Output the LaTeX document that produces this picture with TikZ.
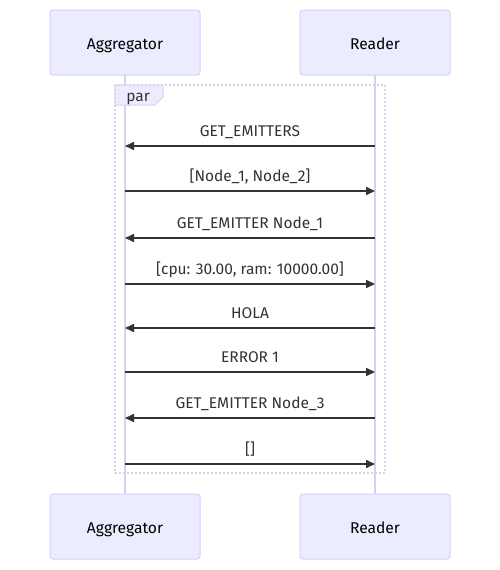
\documentclass[tikz,border=0pt]{standalone}
\usepackage{fontspec}
\setmainfont{Fira Sans}
\usetikzlibrary{arrows.meta}
\definecolor{actorfill}{HTML}{ECECFF}
\definecolor{actorline}{HTML}{DACEF3}
\definecolor{msgcolor}{HTML}{333333}
\begin{document}
\begin{tikzpicture}[x=1pt, y=-1pt,
    actorbox/.style={draw=actorline, fill=actorfill, line width=1pt, rounded corners=3pt,
      minimum width=150pt, minimum height=65pt, text height=13pt, text depth=0pt,
      font=\fontsize{15.6}{18}\selectfont, text=black},
    lifeline/.style={draw=actorline, line width=1.5pt},
    msg/.style={draw=msgcolor, line width=1.6pt, -{Triangle[length=9pt,width=8pt]}},
    msglabel/.style={anchor=base, inner sep=0pt, font=\fontsize{15.5}{18}\selectfont, text=msgcolor},
    parframe/.style={draw=actorline, line width=1.5pt, dash pattern=on 2pt off 2pt}]
  \useasboundingbox (0,0) rectangle (500,570);

  % lifelines
  \draw[lifeline] (125,75) -- (125,494);
  \draw[lifeline] (375,75) -- (375,494);

  % actors
  \node[actorbox] (aggTop) at (125,42.5) {Aggregator};
  \node[actorbox] (readTop) at (375,42.5) {Reader};
  \node[actorbox] (aggBot) at (125,526.5) {Aggregator};
  \node[actorbox] (readBot) at (375,526.5) {Reader};

  % par block
  \draw[parframe] (115,85) rectangle (385,473);
  \draw[draw=actorline, fill=actorfill, line width=1pt]
    (115,85) -- (163,85) -- (163,97) -- (155,105) -- (115,105) -- cycle;
  \node[msglabel] (parLabel) at (138,101) {par};

  % messages
  \foreach \y/\src/\dst/\txt [count=\i] in {
      146/r/a/{GET\_EMITTERS},
      191/a/r/{[Node\_1, Node\_2]},
      238/r/a/{GET\_EMITTER Node\_1},
      284/a/r/{[cpu: 30.00, ram: 10000.00]},
      328/r/a/{HOLA},
      372/a/r/{ERROR 1},
      418/r/a/{GET\_EMITTER Node\_3},
      464/a/r/{[]}}
  {
    \coordinate (a\i) at (125,\y);
    \coordinate (r\i) at (375,\y);
    \draw[msg] (\src\i) -- (\dst\i);
    \node[msglabel] (m\i) at (250,\y-10) {\txt};
  }
\end{tikzpicture}
\end{document}
